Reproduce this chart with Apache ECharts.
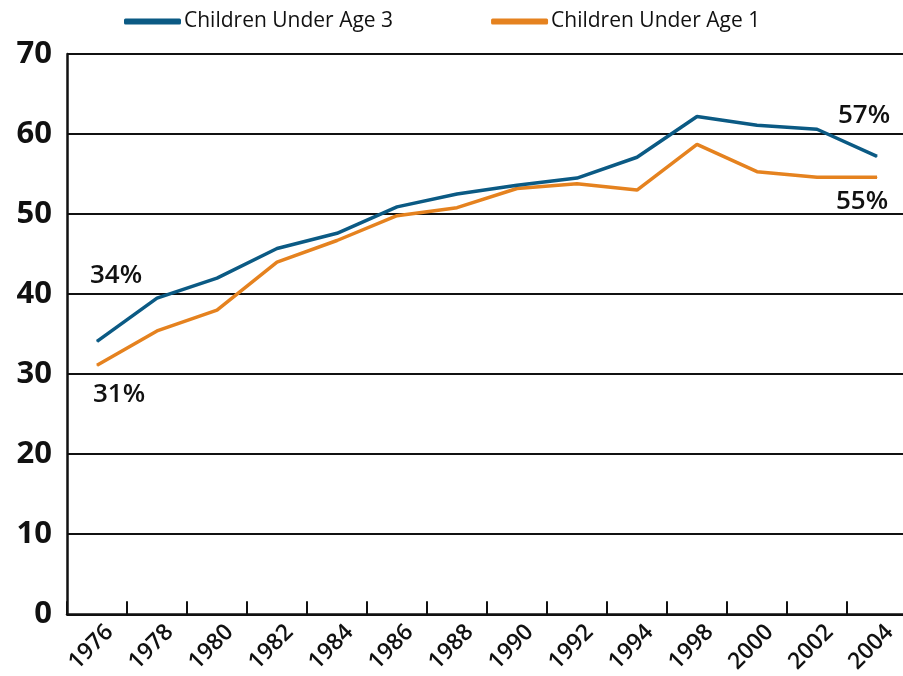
<!DOCTYPE html>
<html>
<head>
<meta charset="utf-8">
<script src="https://cdn.jsdelivr.net/npm/echarts@6/dist/echarts.min.js"></script>
<style>
  html, body { margin: 0; padding: 0; background: #ffffff; overflow: hidden; }
  #chart { width: 907px; height: 676px; }
</style>
</head>
<body>
<div id="chart"></div>
<script>
// Share of mothers in the labor force, by age of youngest child (percent)
const years = ['1976', '1978', '1980', '1982', '1984', '1986', '1988', '1990', '1992', '1994', '1998', '2000', '2002', '2004'];
const underAge3 = [34.1, 39.5, 42.0, 45.7, 47.6, 50.9, 52.5, 53.6, 54.5, 57.1, 62.2, 61.1, 60.6, 57.2];
const underAge1 = [31.1, 35.4, 38.0, 44.0, 46.7, 49.8, 50.8, 53.2, 53.8, 53.0, 58.7, 55.3, 54.6, 54.6];
const yTicks = [0, 10, 20, 30, 40, 50, 60, 70];

const FONT = '"Open Sans", "Noto Sans", sans-serif';
const BLUE = '#0b5a84';
const ORANGE = '#e5821f';
const INK = '#111111';

// Percent callouts at the first and last year of each series
function withEndLabels(values, firstOffset, lastOffset) {
  const last = values.length - 1;
  return values.map((v, i) => {
    if (i !== 0 && i !== last) return v;
    return {
      value: v,
      label: {
        show: true,
        position: 'inside',
        offset: i === 0 ? firstOffset : lastOffset,
        formatter: (p) => Math.round(p.value) + '%',
        fontFamily: FONT,
        fontSize: 26,
        fontWeight: 600,
        color: INK
      }
    };
  });
}

const chart = echarts.init(document.getElementById('chart'), null, { renderer: 'canvas' });

chart.setOption({
  animation: false,
  backgroundColor: '#ffffff',
  legend: {
    top: 6,
    left: 119,
    itemWidth: 57,
    itemHeight: 6,
    itemGap: 98,
    textStyle: { fontFamily: FONT, fontSize: 21, color: INK, padding: [4, 0, 0, -2] },
    data: [
      { name: 'Children Under Age 3', icon: 'roundRect', itemStyle: { color: BLUE } },
      { name: 'Children Under Age 1', icon: 'roundRect', itemStyle: { color: ORANGE } }
    ]
  },
  grid: { left: 67, top: 54, width: 840, height: 561, containLabel: false },
  xAxis: {
    type: 'category',
    data: years,
    boundaryGap: true,
    axisLine: { lineStyle: { color: INK, width: 2.5 } },
    axisTick: { show: true, inside: true, length: 13, lineStyle: { color: INK, width: 2 } },
    axisLabel: {
      rotate: 45,
      margin: 27,
      padding: [0, -18, 0, 0],
      fontFamily: FONT,
      fontSize: 23,
      fontWeight: 600,
      color: INK
    }
  },
  yAxis: {
    type: 'value',
    min: yTicks[0],
    max: yTicks[yTicks.length - 1],
    interval: 10,
    axisLine: { show: true, lineStyle: { color: INK, width: 2.5 } },
    axisTick: { show: false },
    splitLine: { lineStyle: { color: INK, width: 2 } },
    axisLabel: {
      margin: 15,
      padding: [7, 0, 0, 0],
      fontFamily: FONT,
      fontSize: 31,
      fontWeight: 'bold',
      color: INK
    }
  },
  series: [
    {
      name: 'Children Under Age 3',
      type: 'line',
      data: withEndLabels(underAge3, [19, -66], [-13, -41]),
      symbol: 'circle',
      symbolSize: 1,
      showSymbol: true,
      itemStyle: { color: BLUE },
      lineStyle: { color: BLUE, width: 3.5 },
      z: 3
    },
    {
      name: 'Children Under Age 1',
      type: 'line',
      data: withEndLabels(underAge1, [22, 29], [-15, 24]),
      symbol: 'circle',
      symbolSize: 1,
      showSymbol: true,
      itemStyle: { color: ORANGE },
      lineStyle: { color: ORANGE, width: 3.5 },
      z: 2
    }
  ]
});
</script>
</body>
</html>
